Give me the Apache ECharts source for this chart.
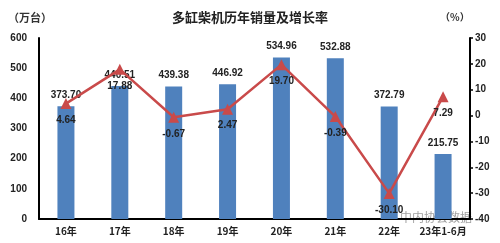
<!DOCTYPE html>
<html><head><meta charset="utf-8">
<script src="https://cdn.jsdelivr.net/npm/echarts@6/dist/echarts.min.js"></script>
<style>html,body{margin:0;padding:0;background:#fff}#c{width:500px;height:243px}</style>
</head><body><div id="c"></div>
<script>
const categories = ['16年','17年','18年','19年','20年','21年','22年','23年1-6月'];
const sales = [373.70, 440.51, 439.38, 446.92, 534.96, 532.88, 372.79, 215.75];
const growth = [4.64, 17.88, -0.67, 2.47, 19.70, -0.39, -30.10, 7.29];
const leftTicks = [0, 600, 100];
const rightTicks = [-40, 30, 10];

const chart = echarts.init(document.getElementById('c'), null, {renderer:'canvas'});
const font = '"Noto Sans CJK SC", sans-serif';
chart.setOption({
  animation:false,
  title:{text:'多缸柴机历年销量及增长率', left:'center', top:6,
    textStyle:{fontSize:13, fontWeight:'bold', color:'#222', fontFamily:font}},
  graphic:[
    {type:'text', left:8, top:12, style:{text:'（万台）', font:'bold 11px "Noto Sans CJK SC"', fill:'#333'}},
    {type:'text', left:440, top:12, style:{text:'（%）', font:'bold 10px "Noto Sans CJK SC"', fill:'#333'}},
    {type:'text', left:400, top:211, style:{text:'中内协会数据', font:'12px "Noto Sans CJK SC"', fill:'rgba(120,120,120,0.7)'}}
  ],
  grid:{left:39, right:30, top:38, bottom:24},
  xAxis:{type:'category', data:categories,
    axisLine:{lineStyle:{color:'#000', width:2}}, axisTick:{show:false},
    axisLabel:{interval:0, color:'#222', fontSize:10, fontWeight:'bold', fontFamily:font, margin:7}},
  yAxis:[
    {type:'value', min:leftTicks[0], max:leftTicks[1], interval:leftTicks[2],
      axisLine:{show:true, lineStyle:{color:'#000', width:2}}, axisTick:{show:false}, splitLine:{show:false},
      axisLabel:{color:'#222', fontSize:10, fontWeight:'bold', fontFamily:'"Liberation Sans", sans-serif', margin:12}},
    {type:'value', min:rightTicks[0], max:rightTicks[1], interval:rightTicks[2],
      axisLine:{show:true, lineStyle:{color:'#000', width:2}},
      axisTick:{show:true, inside:false, length:3, lineStyle:{color:'#000', width:1.5}}, splitLine:{show:false},
      axisLabel:{color:'#222', fontSize:10, fontWeight:'bold', fontFamily:'"Liberation Sans", sans-serif', margin:5}}
  ],
  series:[
    {type:'bar', data:sales, barWidth:17, itemStyle:{color:'#4F81BD'},
      label:{show:true, position:'top', distance:6, formatter:p=>p.value.toFixed(2),
        color:'#222', fontSize:10, fontWeight:'bold', fontFamily:'"Liberation Sans", sans-serif'}},
    {type:'line', yAxisIndex:1, data:growth, symbol:'triangle', symbolSize:11,
      lineStyle:{color:'#C94A4A', width:2.5}, itemStyle:{color:'#C94A4A'},
      label:{show:true, position:'bottom', distance:6, formatter:p=>p.value.toFixed(2),
        color:'#222', fontSize:10, fontWeight:'bold', fontFamily:'"Liberation Sans", sans-serif'}, z:5}
  ]
});
</script></body></html>
